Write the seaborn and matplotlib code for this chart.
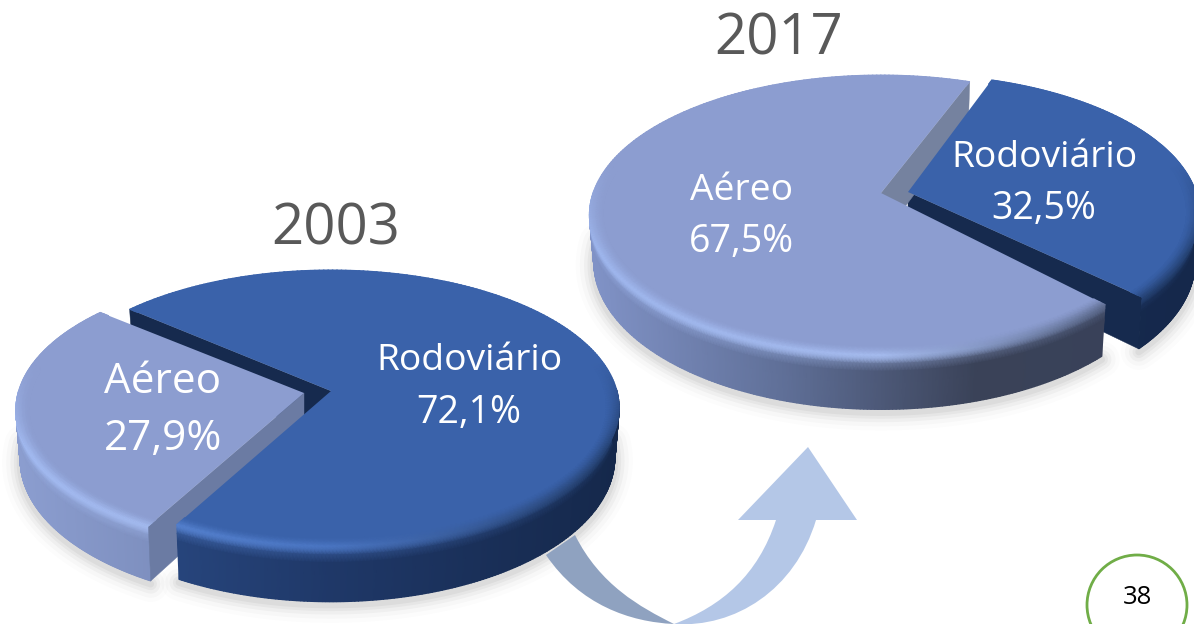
"""3D-look exploded pies, 2003 vs 2017 modal share, drawn with perspective-mapped wedges."""
import matplotlib
matplotlib.use("Agg")
import numpy as np
import matplotlib.pyplot as plt
import seaborn as sns
from matplotlib.patches import Ellipse, PathPatch, Polygon
from matplotlib.path import Path

# Values
categories = ["Rodoviário", "Aéreo"]
share_2003 = [72.1, 27.9]
share_2017 = [32.5, 67.5]
years = ["2003", "2017"]
page_number = "38"

# Colours: top face, cut face, wall left->right, bevel highlight left->right
STYLE = {
    ("2003", "Rodoviário"): dict(top="#3a62aa", cut="#162a4e", wall=["#2d4f8c", "#1f3868", "#15284b"],
                                 hi=["#5d8ad8", "#4a75c2", "#24406f"]),
    ("2003", "Aéreo"): dict(top="#8c9dd0", cut="#6b7ba3", wall=["#8b9dcf", "#6f80ad", "#6a7aa3"],
                            hi=["#a3bbf2", "#a3b8ea", "#a3b4e0"]),
    ("2017", "Rodoviário"): dict(top="#3a62aa", cut="#162a4e", wall=["#1c335f", "#172b50", "#15284b"],
                                 hi=["#2e5090", "#2e5090", "#24406f"]),
    ("2017", "Aéreo"): dict(top="#8c9dd0", cut="#75829f", wall=["#8092c6", "#5f6f97", "#3a4258", "#38415a"],
                            hi=["#9fb7ee", "#a5bbee", "#4a5675"]),
}
# Pie geometry in pixels: apex of each sector, radii, perspective, depth, first edge angle,
# and small per-sector edge trims (degrees) because the original perspective is not exact
GEOM = {
    "2003": dict(rx=286, ry=135.9, k=0.123, depth=49, edge=140.5,
                 apex={"Rodoviário": (331, 391), "Aéreo": (304, 393)},
                 trim={"Rodoviário": (0.3, -1.0), "Aéreo": (-0.3, 0.0)}),
    "2017": dict(rx=288, ry=136.5, k=0.157, depth=46, edge=70.5,
                 apex={"Rodoviário": (908, 192), "Aéreo": (881, 193)},
                 trim={"Rodoviário": (3.0, 0.0), "Aéreo": (-1.2, 0.1)}),
}


def rim(theta, apex, g, r=1.0):
    """Perspective-map disk angles to (x_top, y_top, x_bottom, y_bottom) pixels."""
    u, v = r * np.cos(theta), r * np.sin(theta)
    w = 1 + g["k"] * v
    x = g["rx"] * u / w
    y = -g["ry"] * v / w
    return apex[0] + x, apex[1] + y, apex[0] + 0.985 * x, apex[1] + y + g["depth"] / w


def ramp(colors, s):
    pal = np.array(sns.blend_palette(colors, n_colors=256))
    return pal[np.clip((s * 255).astype(int), 0, 255)]


def sector_angles(year, values):
    """Clockwise sweep from the first edge: Rodoviário takes its share, Aéreo the rest."""
    g = GEOM[year]
    rod = values[0] * 3.6
    out = {"Rodoviário": (g["edge"] - rod, g["edge"]), "Aéreo": (g["edge"], g["edge"] + 360 - rod)}
    return {n: (np.radians(a + g["trim"][n][0]), np.radians(b + g["trim"][n][1])) for n, (a, b) in out.items()}


def draw_shadow(ax, theta, apex, g):
    _, _, xb, yb = rim(theta, apex, g)
    for lw, alpha in zip([26, 20, 14, 9, 5], [0.012, 0.02, 0.03, 0.035, 0.04]):
        ax.plot(xb, yb + 3, color="black", lw=lw, alpha=alpha, solid_capstyle="round", zorder=1)


def draw_walls(ax, year, name, a0, a1, z):
    g, st = GEOM[year], STYLE[(year, name)]
    apex = g["apex"][name]
    for a, outward in ((a0, a0 - np.pi / 2), (a1, a1 + np.pi / 2)):
        if np.sin(outward) < 0:  # only cut faces turned towards the viewer
            xt, yt, xb, yb = rim(np.array([a]), apex, g)
            ax.add_patch(Polygon([apex, (xt[0], yt[0]), (xb[0], yb[0]), (apex[0], apex[1] + g["depth"])],
                                 closed=True, fc=st["cut"], ec=st["cut"], lw=0.3, zorder=z))


def draw_outer(ax, year, name, a0, a1, z):
    g, st = GEOM[year], STYLE[(year, name)]
    apex = g["apex"][name]
    theta = np.linspace(a0, a1, 400)
    theta = theta[np.sin(theta) < 0.02]  # the back of the rim is never seen
    xt, yt, xb, yb = rim(theta, apex, g)
    s = (xt - (apex[0] - g["rx"])) / (2 * g["rx"])
    wall, hi = ramp(st["wall"], s), ramp(st["hi"], s)
    t = np.array([0, 0.07, 0.16, 0.3, 1.0])
    mix = np.array([1, 0.85, 0.3, 0, 0])
    X = np.outer(xt, 1 - t) + np.outer(xb, t)
    Y = np.outer(yt, 1 - t) + np.outer(yb, t)
    C = mix[None, :, None] * hi[:, None, :] + (1 - mix[None, :, None]) * wall[:, None, :]
    ax.pcolormesh(X, Y, C, shading="gouraud", zorder=z)


def draw_top(ax, year, name, a0, a1, z):
    g, st = GEOM[year], STYLE[(year, name)]
    apex = g["apex"][name]
    theta = np.linspace(a0, a1, 260)
    xt, yt, _, _ = rim(theta, apex, g)
    ax.add_patch(Polygon(np.vstack([[apex], np.c_[xt, yt]]), closed=True, fc=st["top"], ec="none", zorder=z))
    # inner bevel, faded into the flat top
    s = (xt - (apex[0] - g["rx"])) / (2 * g["rx"])
    front = np.clip(-np.sin(theta) * 1.6 + 0.35, 0, 1)[:, None]
    hi = ramp(st["hi"], s)
    top = np.array(matplotlib.colors.to_rgb(st["top"]))
    rs = np.array([0.955, 0.98, 1.0])
    X, Y = [], []
    for r in rs:
        x, y, _, _ = rim(theta, apex, g, r)
        X.append(x)
        Y.append(y)
    X, Y = np.array(X).T, np.array(Y).T
    C = np.stack([np.tile(top, (len(theta), 1)),
                  top + (hi - top) * front * 0.45,
                  top + (hi - top) * front], axis=1)
    ax.pcolormesh(X, Y, C, shading="gouraud", zorder=z + 0.1)


def draw_pie(ax, year, values, z):
    g = GEOM[year]
    angles = sector_angles(year, values)
    for name in categories:
        a0, a1 = angles[name]
        theta = np.linspace(a0, a1, 200)
        draw_shadow(ax, theta[np.sin(theta) < 0.02], g["apex"][name], g)
    a0, a1 = angles["Rodoviário"]
    draw_walls(ax, year, "Rodoviário", a0, a1, z)
    b0, b1 = angles["Aéreo"]
    draw_outer(ax, year, "Aéreo", b0, b1, z + 1)
    draw_walls(ax, year, "Aéreo", b0, b1, z + 1.2)
    draw_top(ax, year, "Aéreo", b0, b1, z + 2)
    draw_outer(ax, year, "Rodoviário", a0, a1, z + 3)
    draw_top(ax, year, "Rodoviário", a0, a1, z + 4)


def pct(v):
    return f"{v:.1f}%".replace(".", ",")


sns.set_theme(style="white")
plt.rcParams["font.family"] = ["Open Sans", "DejaVu Sans"]

fig = plt.figure(figsize=(11.94, 6.24), dpi=100)
ax = fig.add_axes([0, 0, 1, 1])
ax.set_xlim(0, 1194)
ax.set_ylim(624, 0)
ax.axis("off")

# curved arrow between the pies, behind the 2003 pie
C4 = Path.CURVE4
dark = Path([(546, 555), (580, 605), (630, 622), (674, 624), (640, 607), (600, 585), (575, 535), (546, 555)],
            [Path.MOVETO, C4, C4, C4, C4, C4, C4, Path.CLOSEPOLY])
light = Path([(674, 624), (735, 628), (795, 590), (816, 520), (857, 520), (808, 447), (738, 520), (776, 520),
              (758, 575), (722, 606), (674, 624), (674, 624)],
             [Path.MOVETO, C4, C4, C4, Path.LINETO, Path.LINETO, Path.LINETO, Path.LINETO,
              C4, C4, C4, Path.CLOSEPOLY])
ax.add_patch(PathPatch(dark, fc="#8fa2c0", ec="none", zorder=2))
ax.add_patch(PathPatch(light, fc="#b4c7e7", ec="none", zorder=2))

draw_pie(ax, "2017", share_2017, 3)
draw_pie(ax, "2003", share_2003, 10)

TXT = dict(color="white", ha="center", va="center", zorder=30)
ax.text(336, 230, years[0], color="#595959", fontsize=40.5, ha="center", va="center")
ax.text(779, 40, years[1], color="#595959", fontsize=40.5, ha="center", va="center")
ax.text(469, 361, categories[0], fontsize=26.8, **TXT)
ax.text(469, 413, pct(share_2003[0]), fontsize=27, **TXT)
ax.text(163, 382, categories[1], fontsize=30.4, **TXT)
ax.text(163, 439, pct(share_2003[1]), fontsize=30.4, **TXT)
ax.text(741, 191, categories[1], fontsize=26.8, **TXT)
ax.text(741, 242, pct(share_2017[1]), fontsize=27, **TXT)
ax.text(1044, 158, categories[0], fontsize=26.8, **TXT)
ax.text(1044, 209, pct(share_2017[0]), fontsize=27, **TXT)

ax.add_patch(Ellipse((1137, 605), 100, 100, fc="white", ec="#70ad47", lw=2, zorder=20))
ax.text(1137, 597, page_number, color="black", fontsize=18.5, ha="center", va="center", zorder=31)

fig.savefig("out.png", dpi=100, facecolor="white")
plt.close(fig)
